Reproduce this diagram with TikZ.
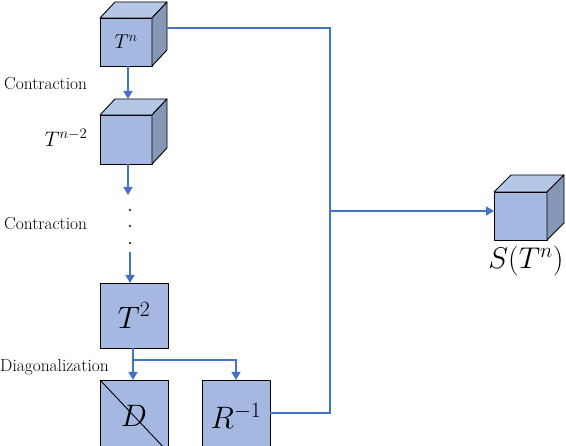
\RequirePackage{fix-cm}
\documentclass[tikz,border=0pt]{standalone}
\usetikzlibrary{arrows.meta}
\definecolor{frontc}{HTML}{A5B8E1}
\definecolor{topc}{HTML}{B4C7E7}
\definecolor{sidec}{HTML}{8497B6}
\definecolor{linec}{HTML}{4472C4}
\tikzset{
  face/.style={draw=black, line width=0.9pt, line join=round},
  front/.style={face, fill=frontc, inner sep=0pt, outer sep=0pt},
  conn/.style={draw=linec, line width=1.7pt},
  arr/.style={conn, -{Triangle[width=9pt,length=8pt]}},
  lbl/.style={font=\fontsize{17.4}{20}\selectfont, inner sep=0pt},
}
\newcommand\mkcube[6]{% name, x, y, w, h, label
  \node[front, minimum width=#4pt, minimum height=#5pt] (#1) at (#2,#3) {#6};
  \draw[face, fill=topc] (#1.north west) -- ([shift={(\cdx,-\cdy)}]#1.north west) -- ([shift={(\cdx,-\cdy)}]#1.north east) -- (#1.north east) -- cycle;
  \draw[face, fill=sidec] (#1.north east) -- ([shift={(\cdx,-\cdy)}]#1.north east) -- ([shift={(\cdx,-\cdy)}]#1.south east) -- (#1.south east) -- cycle;
}
\begin{document}
\begin{tikzpicture}[x=1pt,y=-1pt]
\useasboundingbox (0,0) rectangle (566,446);
\clip (0,0) rectangle (566,446);
\def\cdx{15}\def\cdy{16}
\mkcube{Tn}{126}{42}{52}{48}{\fontsize{20}{22}\selectfont$T^n$}
\mkcube{Tnm}{126}{139.5}{52}{49}{}
\def\cdx{17}\def\cdy{17}
\mkcube{S}{520.5}{216}{53}{48}{}
\node[front, minimum width=68pt, minimum height=65pt] (T2) at (134,315.5) {\fontsize{31}{33}\selectfont$T^2$};
\node[front, minimum width=68pt, minimum height=72pt] (D) at (134,416) {\fontsize{31}{33}\selectfont$D$};
\node[front, minimum width=68pt, minimum height=72pt] (R) at (236,416) {\fontsize{31}{33}\selectfont$R^{-1}$};
\draw[face] (D.north west) -- (D.south east);

\node[lbl, anchor=west] (c1) at (4,84) {Contraction};
\node[lbl, anchor=west] (c2) at (4,224) {Contraction};
\node[lbl, anchor=west] (dg) at (0,367) {Diagonalization};
\node[inner sep=0pt] (tnml) at (66,138) {\fontsize{21}{23}\selectfont$T^{n-2}$};
\node[inner sep=0pt] (sl) at (526,261) {\fontsize{30}{32}\selectfont$S(T^n)$};

\foreach \yy/\nm in {210/d1,226/d2,243/d3} \fill (130,\yy) circle (1.1) coordinate (\nm);

\coordinate (a1) at (128,99);
\coordinate (a2) at (128,195);
\coordinate (a3s) at (130,252);
\coordinate (a3e) at (130,283);
\coordinate (br) at (133,360);
\coordinate (tnr) at ([shift={(15,-14)}]Tn.east);
\coordinate (vx) at (330,28);
\coordinate (vs) at (330,211);
\coordinate (vr) at (330,413);

\draw[arr] (Tn.south -| a1) -- (a1);
\draw[arr] (Tnm.south -| a2) -- (a2);
\draw[arr] (a3s) -- (a3e);
\draw[conn] (T2.south -| br) -- (br);
\draw[arr] (br) -- (D.north -| br);
\draw[arr] (br) -| (R.north);
\draw[conn] (R.east |- vr) -- (vr) -- (vx) -- (tnr);
\draw[arr] (vs) -- (S.west |- vs);
\end{tikzpicture}
\end{document}
